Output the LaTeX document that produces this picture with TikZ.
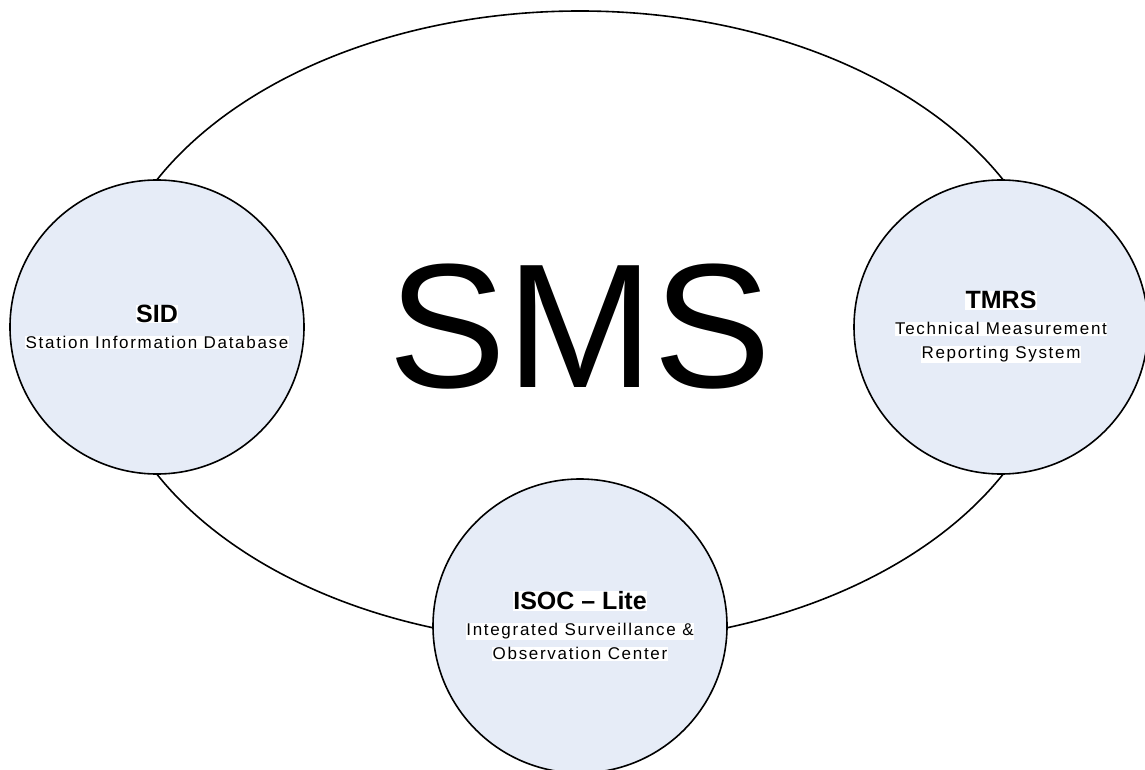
\documentclass[tikz,border=0pt]{standalone}
\usepackage{fontspec}
\setmainfont{Liberation Sans}
\newfontfamily\subfont[LetterSpace=10]{Liberation Sans}
\usepackage[usenames]{xcolor}
\usetikzlibrary{shapes,positioning}

\definecolor{circfill}{RGB}{230,236,247}
\newcommand{\hl}[1]{\colorbox{white}{#1}}
\newcommand{\systitle}[1]{\colorbox{white}{\normalfont\fontsize{25}{25}\selectfont\bfseries #1}}
\setlength{\fboxsep}{0.5pt}

\begin{document}
\begin{tikzpicture}[x=1pt, y=-1pt,
	  every node/.style = {draw, line width=1.6pt, inner sep=0pt, align=center},
	  sysbox/.style = {shape=circle, minimum size=294pt, fill=circfill,
	    font=\subfont\fontsize{17}{24}\selectfont}]
	  \useasboundingbox (0,0) rectangle (1145,770);
	  \node[shape=ellipse, minimum width=956pt, minimum height=632pt,
	    font=\fontsize{177}{177}\selectfont] (sms) at (580,327) {SMS};
	  \node[sysbox] (sid) at (157,327)
	    {\systitle{SID}\\[2pt]
	     \hl{Station Information Database}};
	  \node[sysbox] (tmrs) at (1001,327)
	    {\systitle{TMRS}\\[2pt]
	     \hl{Technical Measurement}\\
	     \hl{Reporting System}};
	  \node[sysbox] (isoc) at (580,626)
	    {\systitle{ISOC \textendash{} Lite}\\[2pt]
	     \hl{Integrated Surveillance \&}\\
	     \hl{Observation Center}};
	\end{tikzpicture}
\end{document}
